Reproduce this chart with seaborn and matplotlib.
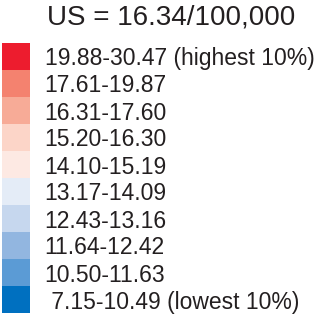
import numpy as np
import matplotlib
matplotlib.use("Agg")
import matplotlib.pyplot as plt
import seaborn as sns
from matplotlib.colors import ListedColormap

title = "US = 16.34/100,000"
labels = [
    "19.88-30.47 (highest 10%)",
    "17.61-19.87",
    "16.31-17.60",
    "15.20-16.30",
    "14.10-15.19",
    "13.17-14.09",
    "12.43-13.16",
    "11.64-12.42",
    "10.50-11.63",
    " 7.15-10.49 (lowest 10%)",
]
colors = ["#ED1C2E", "#F4826F", "#F7AB97", "#FCD5C8", "#FDE9E3",
          "#E4ECF7", "#C6D7EE", "#92B6E0", "#5B9BD5", "#0070C0"]

sns.set_style("white")
plt.rcParams['font.family'] = ['Liberation Sans', 'DejaVu Sans']

fig = plt.figure(figsize=(3.25, 3.14), dpi=100)
ax = fig.add_axes([2 / 325, 1 / 314, 28 / 325, 270 / 314])

# one colour cell per class, labels on the right
data = np.arange(len(labels)).reshape(-1, 1)
sns.heatmap(data, cmap=ListedColormap(colors), cbar=False, ax=ax,
            xticklabels=False, yticklabels=labels)
ax.yaxis.tick_right()
ax.tick_params(axis='y', length=0, pad=10.5, labelsize=16.5, labelcolor="#231F20",
               rotation=0)
for s in ax.spines.values():
    s.set_visible(False)

fig.text(47 / 325, 1 - 18 / 314, title, fontsize=20, color="#231F20",
         ha='left', va='center')

fig.savefig("out.png", dpi=100)
